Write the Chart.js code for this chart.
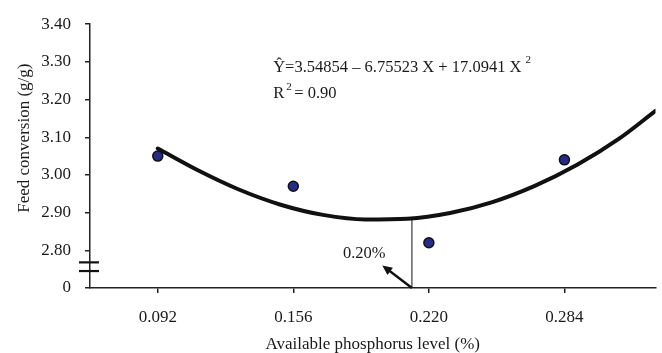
<!DOCTYPE html>
<html>
<head>
<meta charset="utf-8">
<script src="https://cdn.jsdelivr.net/npm/chart.js@4.4.0/dist/chart.umd.min.js"></script>
<style>
    html, body { margin: 0; padding: 0; background: #fff; }
    #wrap { width: 662px; height: 353px; }
</style>
</head>
<body>
<div id="wrap"><canvas id="chart" width="662" height="353"></canvas></div>
<script>
// observed means
const phosphorusLevels = [0.092, 0.156, 0.220, 0.284];
const feedConversion = [3.05, 2.97, 2.82, 3.04];

// fitted quadratic
const curveX = [0.092, 0.11, 0.13, 0.15, 0.17, 0.19, 0.21, 0.23, 0.25, 0.27, 0.29, 0.31, 0.327];
const curveY = [3.07, 3.015, 2.962, 2.921, 2.894, 2.882, 2.884, 2.899, 2.928, 2.971, 3.027, 3.097, 3.17];

// tick labels
const xTickLabels = ['0.092', '0.156', '0.220', '0.284'];
const yTickValues = [2.7, 2.8, 2.9, 3.0, 3.1, 3.2, 3.3, 3.4];
const yTickLabels = ['0', '2.80', '2.90', '3.00', '3.10', '3.20', '3.30', '3.40'];

// annotation text
const equationText = 'Ŷ=3.54854 – 6.75523 X + 17.0941 X';
const r2Text = 'R';
const optimumLabel = '0.20%';
const optimumX = 0.212;      // drop line from the curve minimum
const optimumY = 2.884;

const fontFamily = "'Liberation Serif', 'Times New Roman', serif";
const textColor = '#1a1a1a';

// draws equation, drop line, arrow, axis break and the y title
const annotationPlugin = {
    id: 'annotations',
    afterDraw(chart) {
        const ctx = chart.ctx;
        const xs = chart.scales.x;
        const ys = chart.scales.y;
        const area = chart.chartArea;
        ctx.save();
        ctx.fillStyle = textColor;
        ctx.strokeStyle = '#111';

        // equation
        ctx.font = '16.5px ' + fontFamily;
        ctx.textBaseline = 'middle';
        ctx.textAlign = 'left';
        const ex = xs.getPixelForValue(0.1465);
        const ey = ys.getPixelForValue(3.285);
        ctx.fillText(equationText, ex, ey);
        const w = ctx.measureText(equationText).width;
        ctx.font = '11px ' + fontFamily;
        ctx.fillText('2', ex + w + 4, ey - 7);

        // R squared
        const ry = ys.getPixelForValue(3.215);
        ctx.font = '16.5px ' + fontFamily;
        ctx.fillText(r2Text, ex, ry);
        const rw = ctx.measureText(r2Text).width;
        ctx.font = '11px ' + fontFamily;
        ctx.fillText('2', ex + rw + 2, ry - 7);
        ctx.font = '16.5px ' + fontFamily;
        ctx.fillText('= 0.90', ex + rw + 10, ry);

        // drop line from curve to axis
        const lx = xs.getPixelForValue(optimumX);
        ctx.lineWidth = 1;
        ctx.beginPath();
        ctx.moveTo(lx, ys.getPixelForValue(2.7));
        ctx.lineTo(lx, ys.getPixelForValue(optimumY));
        ctx.stroke();

        // arrow pointing to the label
        const tx = lx, ty = ys.getPixelForValue(2.7);
        const hx = xs.getPixelForValue(0.198), hy = ys.getPixelForValue(2.76);
        const ang = Math.atan2(hy - ty, hx - tx);
        ctx.lineWidth = 2.4;
        ctx.beginPath();
        ctx.moveTo(tx, ty);
        ctx.lineTo(hx - 6 * Math.cos(ang), hy - 6 * Math.sin(ang));
        ctx.stroke();
        ctx.fillStyle = '#111';
        ctx.beginPath();
        ctx.moveTo(hx, hy);
        ctx.lineTo(hx - 10 * Math.cos(ang) + 4.5 * Math.sin(ang), hy - 10 * Math.sin(ang) - 4.5 * Math.cos(ang));
        ctx.lineTo(hx - 10 * Math.cos(ang) - 4.5 * Math.sin(ang), hy - 10 * Math.sin(ang) + 4.5 * Math.cos(ang));
        ctx.closePath();
        ctx.fill();

        ctx.fillStyle = textColor;
        ctx.font = '16.5px ' + fontFamily;
        ctx.textAlign = 'center';
        ctx.fillText(optimumLabel, xs.getPixelForValue(0.1895), ys.getPixelForValue(2.792));

        // axis break marks
        ctx.lineWidth = 2.2;
        [2.768, 2.745].forEach(v => {
            const by = ys.getPixelForValue(v);
            ctx.beginPath();
            ctx.moveTo(area.left - 11, by);
            ctx.lineTo(area.left + 9, by);
            ctx.stroke();
        });

        // y axis title
        ctx.translate(25, area.top + (area.bottom - area.top) * 0.432);
        ctx.rotate(-Math.PI / 2);
        ctx.font = '17px ' + fontFamily;
        ctx.textAlign = 'center';
        ctx.fillText('Feed conversion (g/g)', 0, 0);
        ctx.restore();
    }
};

const ctx = document.getElementById('chart').getContext('2d');
const chart = new Chart(ctx, {
    type: 'scatter',
    data: {
        datasets: [
            {
                label: 'Fitted',
                data: curveX.map((x, i) => ({ x: x, y: curveY[i] })),
                showLine: true,
                borderColor: '#111',
                borderWidth: 4,
                borderCapStyle: 'round',
                pointRadius: 0,
                cubicInterpolationMode: 'monotone',
                order: 2
            },
            {
                label: 'Observed',
                data: phosphorusLevels.map((x, i) => ({ x: x, y: feedConversion[i] })),
                showLine: false,
                pointRadius: 5,
                pointBackgroundColor: '#242c88',
                pointBorderColor: '#111',
                pointBorderWidth: 1.5,
                order: 1
            }
        ]
    },
    options: {
        responsive: false,
        animation: false,
        layout: { padding: { top: 20, left: 0, right: 6, bottom: 0 } },
        plugins: {
            legend: { display: false },
            tooltip: { enabled: false }
        },
        scales: {
            x: {
                type: 'linear',
                min: 0.06,
                max: 0.327,
                afterBuildTicks: s => { s.ticks = phosphorusLevels.map(v => ({ value: v })); },
                afterFit: s => { s.height = 65; },
                ticks: {
                    callback: (v, i) => xTickLabels[i],
                    font: { family: fontFamily, size: 17 },
                    color: textColor,
                    padding: 14,
                    maxRotation: 0,
                    autoSkip: false
                },
                grid: { drawOnChartArea: false, drawTicks: true, tickLength: 5, color: '#222', lineWidth: 1.5 },
                border: { color: '#222', width: 1.5 },
                title: {
                    display: true,
                    text: 'Available phosphorus level (%)',
                    font: { family: fontFamily, size: 17, lineHeight: 1.0 },
                    color: textColor,
                    padding: { top: 0, bottom: 0 }
                }
            },
            y: {
                type: 'linear',
                min: 2.7,
                max: 3.4,
                afterBuildTicks: s => { s.ticks = yTickValues.map(v => ({ value: v })); },
                afterFit: s => { s.width = 90; },
                ticks: {
                    callback: (v, i) => yTickLabels[i],
                    font: { family: fontFamily, size: 17 },
                    color: textColor,
                    padding: 14
                },
                grid: { drawOnChartArea: false, drawTicks: true, tickLength: 5, color: '#222', lineWidth: 1.5 },
                border: { color: '#222', width: 1.5 }
            }
        }
    },
    plugins: [annotationPlugin]
});
</script>
</body>
</html>
